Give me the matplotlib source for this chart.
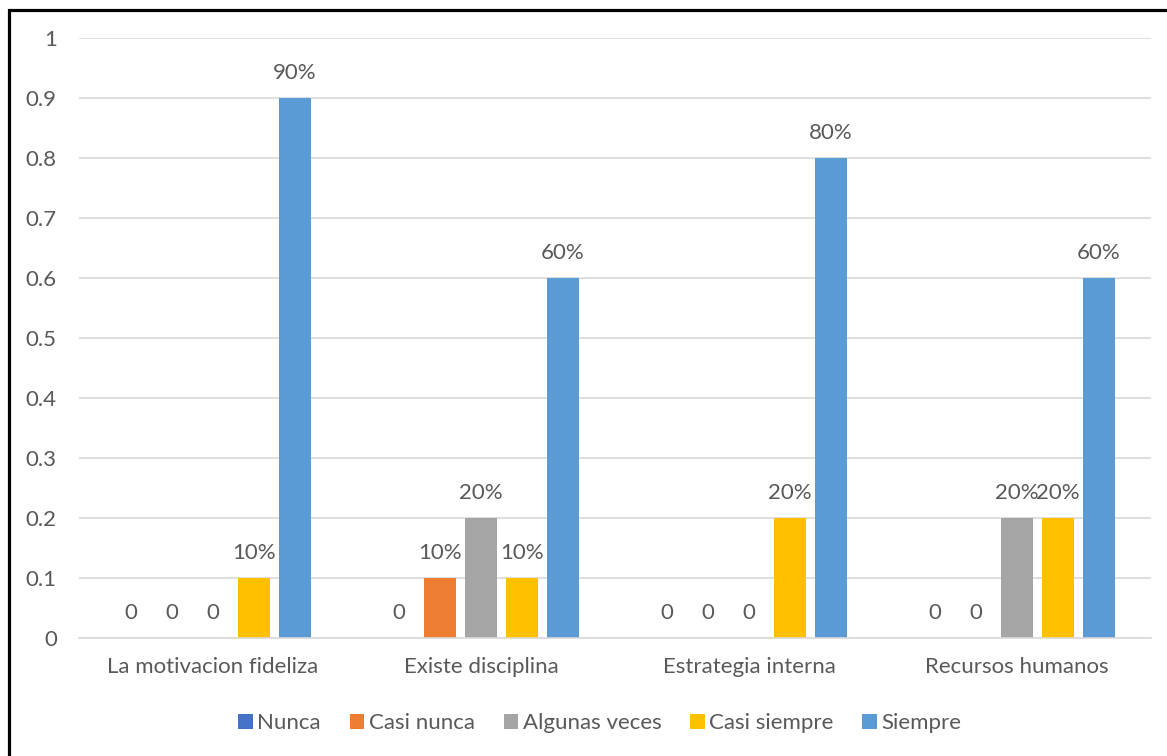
import matplotlib
matplotlib.use("Agg")
import matplotlib.pyplot as plt
from matplotlib.patches import Rectangle
import numpy as np

plt.rcParams['font.family'] = ['Lato', 'DejaVu Sans']

categorias = ["La motivacion fideliza", "Existe disciplina",
              "Estrategia interna", "Recursos humanos"]
series = ["Nunca", "Casi nunca", "Algunas veces", "Casi siempre", "Siempre"]
nunca = [0, 0, 0, 0]
casi_nunca = [0, 0.1, 0, 0]
algunas_veces = [0, 0.2, 0, 0.2]
casi_siempre = [0.1, 0.1, 0.2, 0.2]
siempre = [0.9, 0.6, 0.8, 0.6]
colores = ["#4472C4", "#ED7D31", "#A5A5A5", "#FFC000", "#5B9BD5"]

valores = [nunca, casi_nunca, algunas_veces, casi_siempre, siempre]
texto = "#595959"
tam = 16

fig = plt.figure(figsize=(11.67, 7.56), dpi=100)
ax = fig.add_axes([0.0677, 0.1561, 0.9186, 0.7936])

x = np.arange(len(categorias))
paso = 0.153
ancho = 0.119
for i, (nombre, vals, color) in enumerate(zip(series, valores, colores)):
    pos = x + (i - 2) * paso
    ax.bar(pos, vals, width=ancho, color=color, label=nombre, zorder=2)
    for p, v in zip(pos, vals):
        etiqueta = "0" if v == 0 else f"{v:.0%}"
        ax.annotate(etiqueta, (p, v), xytext=(0, 18), textcoords="offset points",
                    ha="center", va="center", fontsize=tam, color=texto)

ax.set_xlim(-0.5, len(categorias) - 0.5)
ax.set_ylim(0, 1)
ax.set_yticks(np.arange(0, 1.01, 0.1))
ax.set_yticklabels(["0"] + [f"{t:.1f}" for t in np.arange(0.1, 0.95, 0.1)] + ["1"])
ax.set_xticks(x)
ax.set_xticklabels(categorias)
ax.tick_params(axis="both", length=0, labelsize=tam, labelcolor=texto)
ax.tick_params(axis="y", pad=16)
ax.tick_params(axis="x", pad=14)
ax.yaxis.grid(True, color="#D9D9D9", linewidth=1.2, zorder=0)
ax.set_axisbelow(True)
for lado in ["top", "right", "left"]:
    ax.spines[lado].set_visible(False)
ax.spines["bottom"].set_color("#D9D9D9")
ax.spines["bottom"].set_linewidth(1.2)

fig.legend(loc="center", bbox_to_anchor=(0.514, 0.043), ncol=5, frameon=False,
           fontsize=tam, labelcolor=texto, handlelength=0.65, handleheight=0.65,
           handletextpad=0.2, columnspacing=1.3)

# marco negro alrededor del grafico
fig.add_artist(Rectangle((9 / 1167, -0.1), 1.2, 1.1 - 10 / 756,
                         transform=fig.transFigure, fill=False,
                         edgecolor="black", linewidth=2.3))

fig.savefig("out.png", dpi=100)
